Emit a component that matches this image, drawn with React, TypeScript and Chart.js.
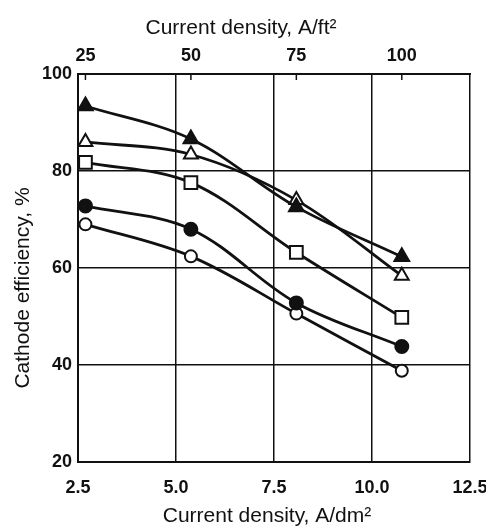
import React, { useEffect, useRef } from "react";
import { Chart, registerables } from "chart.js";

Chart.register(...registerables);

// Current density in A/dm² where points were measured (25, 50, 75, 100 A/ft²)
const xPoints = [2.69, 5.38, 8.07, 10.76];
const topTickValues = [2.69, 5.38, 8.07, 10.76];
const topTickLabels = ["25", "50", "75", "100"];

const filledTriangle = [93.4, 86.6, 72.6, 62.3];
const openTriangle = [86.0, 83.4, 74.0, 58.4];
const openSquare = [81.8, 77.6, 63.2, 49.8];
const filledCircle = [72.8, 68.0, 52.8, 43.8];
const openCircle = [69.0, 62.4, 50.6, 38.8];

const FONT = "'Liberation Sans', 'Helvetica', 'Arial', sans-serif";

function pts(vals: number[]) {
  return vals.map((v, i) => ({ x: xPoints[i], y: v }));
}

export default function App() {
  const ref = useRef<HTMLCanvasElement | null>(null);

  useEffect(() => {
    if (!ref.current) return;

    const base = {
      borderColor: "#111",
      borderWidth: 2.8,
      pointBorderColor: "#111",
      pointBorderWidth: 2,
      tension: 0.35,
    };

    const extras = {
      id: "extras",
      afterDraw(chart: any) {
        const ctx = chart.ctx;
        const area = chart.chartArea;
        const x2 = chart.scales.x2;
        ctx.save();
        // small inner ticks at the A/ft² positions
        ctx.strokeStyle = "#111";
        ctx.lineWidth = 1.5;
        topTickValues.forEach((v) => {
          const px = x2.getPixelForValue(v);
          ctx.beginPath();
          ctx.moveTo(px, area.top);
          ctx.lineTo(px, area.top + 6);
          ctx.stroke();
        });
        ctx.fillStyle = "#111";
        ctx.font = `21px ${FONT}`;
        ctx.textAlign = "center";
        ctx.textBaseline = "middle";
        ctx.fillText("Current density, A/ft²", area.left + 163, 28);
        ctx.fillText("Current density, A/dm²", area.left + 189, 516);
        ctx.translate(23, 288);
        ctx.rotate(-Math.PI / 2);
        ctx.fillText("Cathode efficiency, %", 0, 0);
        ctx.restore();
      },
    };

    const noSidePad = (s: any) => {
      s.paddingLeft = 0;
      s.paddingRight = 0;
    };

    const chart = new Chart(ref.current, {
      type: "line",
      data: {
        datasets: [
          { ...base, data: pts(filledTriangle), pointStyle: "triangle", pointRadius: 8.5, pointBackgroundColor: "#111" },
          { ...base, data: pts(openTriangle), pointStyle: "triangle", pointRadius: 8, pointBackgroundColor: "#fff" },
          { ...base, data: pts(openSquare), pointStyle: "rect", pointRadius: 9, pointBackgroundColor: "#fff" },
          { ...base, data: pts(filledCircle), pointStyle: "circle", pointRadius: 6.5, pointBackgroundColor: "#111" },
          { ...base, data: pts(openCircle), pointStyle: "circle", pointRadius: 6, pointBackgroundColor: "#fff" },
        ],
      },
      options: {
        animation: false,
        responsive: true,
        maintainAspectRatio: false,
        layout: { padding: { left: 0, right: 16, top: 0, bottom: 0 } },
        plugins: { legend: { display: false }, tooltip: { enabled: false } },
        scales: {
          x: {
            type: "linear",
            position: "bottom",
            min: 2.5,
            max: 12.5,
            ticks: {
              stepSize: 2.5,
              color: "#111",
              font: { family: FONT, size: 18, weight: "bold" },
              padding: 15,
              maxRotation: 0,
              callback: (v: any) => Number(v).toFixed(1),
            },
            grid: { color: "#111", lineWidth: 1.5, drawTicks: false },
            border: { color: "#111", width: 2 },
            afterFit: (s: any) => { s.height = 65; noSidePad(s); },
          },
          x2: {
            type: "linear",
            position: "top",
            min: 2.5,
            max: 12.5,
            afterBuildTicks: (s: any) => { s.ticks = topTickValues.map((v) => ({ value: v })); },
            ticks: {
              color: "#111",
              font: { family: FONT, size: 18, weight: "bold" },
              padding: 7,
              maxRotation: 0,
              autoSkip: false,
              callback: (_v: any, i: number) => topTickLabels[i],
            },
            grid: { display: false, drawTicks: false },
            border: { color: "#111", width: 2 },
            afterFit: (s: any) => { s.height = 74; noSidePad(s); },
          },
          y: {
            type: "linear",
            min: 20,
            max: 100,
            ticks: {
              stepSize: 20,
              color: "#111",
              font: { family: FONT, size: 18, weight: "bold" },
              padding: 6,
            },
            grid: { color: "#111", lineWidth: 1.5, drawTicks: false },
            border: { color: "#111", width: 2 },
            afterFit: (s: any) => { s.width = 78; s.paddingTop = 0; s.paddingBottom = 0; },
          },
        },
      },
      plugins: [extras],
    } as any);

    return () => chart.destroy();
  }, []);

  return (
    <div style={{ position: "fixed", left: 0, top: 0, width: 486, height: 527, background: "#fff" }}>
      <canvas ref={ref} />
    </div>
  );
}
